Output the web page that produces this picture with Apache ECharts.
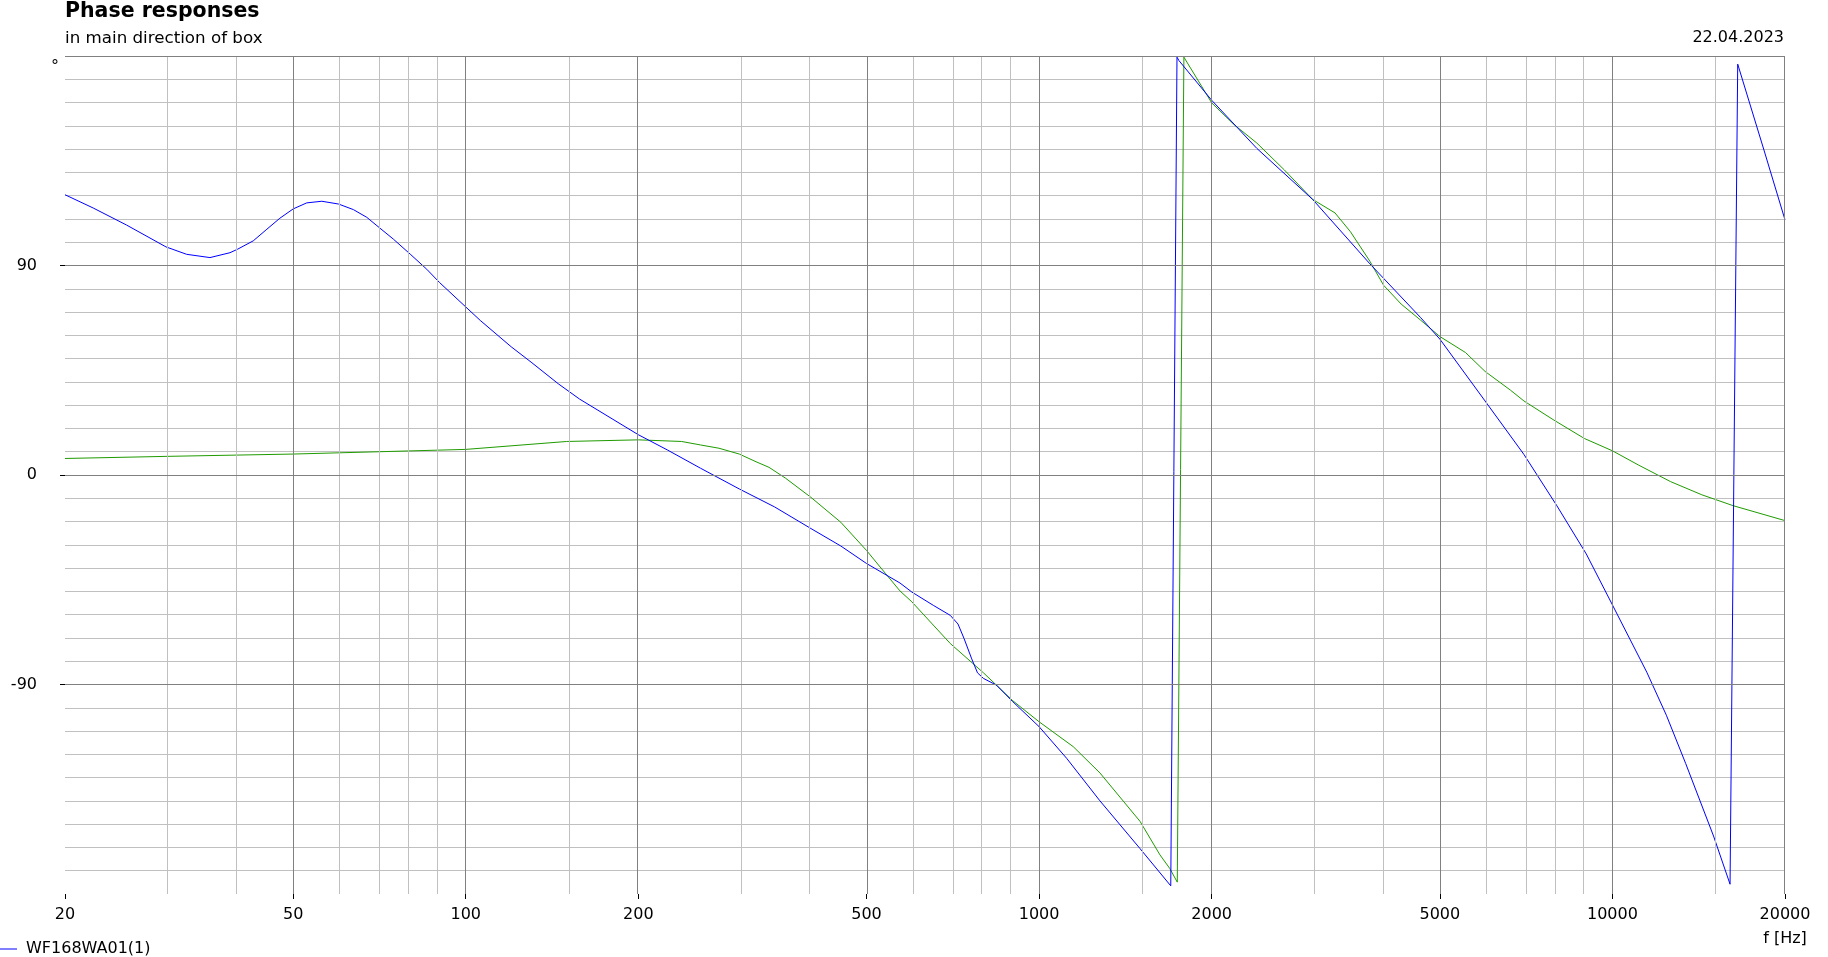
<!DOCTYPE html>
<html><head><meta charset="utf-8">
<script src="https://cdn.jsdelivr.net/npm/echarts@6/dist/echarts.min.js"></script>
<style>html,body{margin:0;padding:0;background:#fff}#c{width:1828px;height:957px}</style>
</head><body><div id="c"></div>
<script>
// ---- data ----
const titleText = 'Phase responses';
const subtitleText = 'in main direction of box';
const dateText = '22.04.2023';
const unitText = '°';
const xUnitText = 'f [Hz]';
const seriesNames = ['WF168WA01(1)', 'WF168WA01(2)'];

const blueFreq = [20, 22.4, 25.6, 30, 32.6, 35.8, 38.8, 40, 42.6, 45, 47.4, 50, 52.8, 56.1, 60, 63.7, 67.2, 70, 74.8, 80, 85.5, 90, 100, 106, 120, 130, 145, 158, 200, 224.6, 256.8, 300, 345.6, 400, 451, 500, 572, 600, 654, 700, 722, 740, 763, 781, 800, 843, 900, 1000, 1117, 1277, 1500, 1697, 1740, 1754, 2000, 2398, 3000, 3776, 4630, 5000, 5996, 7010, 8000, 9003, 10000, 11480, 12420, 13420, 15010, 16040, 16540, 18400, 20000];
const bluePhase = [120.4, 114.7, 107.4, 98.0, 94.8, 93.4, 95.5, 97.0, 100.6, 105.6, 110.3, 114.3, 116.9, 117.6, 116.4, 114.0, 110.7, 107.1, 101.3, 94.9, 88.4, 82.7, 72.2, 66.4, 55.1, 48.5, 39.2, 32.6, 17.3, 10.8, 2.9, -6, -13.7, -23, -30.5, -38, -46.4, -50.3, -56, -60.3, -64, -70.3, -79, -85, -87.4, -90.3, -97.4, -108.1, -121.7, -140, -160.5, -176.5, 179.5, 178, 161, 140.3, 118.4, 90.7, 67.6, 58.4, 31.8, 8.8, -13.2, -33.9, -55.8, -84.7, -103.2, -123.9, -155.1, -175.8, 176.5, 139.2, 109.6];

const greenFreq = [20, 30, 50, 100, 150, 200, 238, 256.8, 276.5, 300, 320.8, 338, 361.4, 400, 451, 500, 540, 572, 600, 700, 800, 900, 1000, 1147, 1277, 1500, 1625, 1690, 1742, 1789, 2000, 2184, 2398, 2677, 3000, 3282, 3492, 3776, 3990, 4282, 4630, 5000, 5544, 5996, 6636, 7010, 7880, 8934, 10000, 11120, 12620, 14320, 16250, 20000];
const greenPhase = [7.1, 8.0, 9.0, 11.0, 14.4, 15.1, 14.4, 12.9, 11.5, 9.0, 5.7, 3.3, -1.4, -9.6, -20.3, -32.4, -42.4, -49.8, -54.5, -72.4, -85, -97, -106, -116.7, -128, -148.8, -163.2, -169, -174.9, 179.5, 159.9, 150.7, 142.6, 131.1, 118.4, 112.6, 104.5, 91.8, 81.5, 73.4, 66.5, 59.5, 52.6, 44.5, 36.5, 31.8, 23.8, 15.7, 10.4, 4.2, -2.8, -8.5, -13.2, -19.6];

const xLabelFreqs = [20, 50, 100, 200, 500, 1000, 2000, 5000, 10000, 20000];
const xMinorFreqs = [30, 40, 60, 70, 80, 90, 150, 300, 400, 600, 700, 800, 900, 1500, 3000, 4000, 6000, 7000, 8000, 9000, 15000];
const yLabelValues = [-90, 0, 90];
const yMajorLines = [-90, 0, 90, 180];

// ---- chart ----
const FONT = 'DejaVu Sans';
const LIGHT = '#c0c0c0', DARK = '#808080';
const lg = Math.log10;
const xMin = lg(20), xMax = lg(20000);

const gridLines = [];
xMinorFreqs.forEach(f => gridLines.push({xAxis: lg(f), lineStyle: {color: LIGHT, width: 1, type: 'solid'}}));
xLabelFreqs.forEach(f => gridLines.push({xAxis: lg(f), lineStyle: {color: DARK, width: 1, type: 'solid'}}));
yMajorLines.forEach(v => gridLines.push({yAxis: v, lineStyle: {color: DARK, width: 1, type: 'solid'}}));

const chart = echarts.init(document.getElementById('c'), null, {renderer: 'canvas'});
chart.setOption({
  animation: false,
  backgroundColor: '#fff',
  textStyle: {fontFamily: FONT},
  grid: {left: 65, right: 43, top: 56, bottom: 63, containLabel: false},
  legend: {
    data: [seriesNames[0]], left: 0, top: 941, padding: 0, icon: 'rect', itemWidth: 17, itemHeight: 1,
    textStyle: {fontFamily: FONT, fontSize: 16, color: '#000', padding: [0, 0, 0, 4]}
  },
  graphic: [
    {type: 'text', left: 65, top: 1, style: {text: titleText, font: 'bold 20.5px "DejaVu Sans"', fill: '#000'}},
    {type: 'text', left: 65, top: 30, style: {text: subtitleText, font: '16.7px "DejaVu Sans"', fill: '#000'}},
    {type: 'text', right: 44, top: 30, style: {text: dateText, font: '16px "DejaVu Sans"', fill: '#000'}},
    {type: 'text', left: 51, top: 59, style: {text: unitText, font: '16px "DejaVu Sans"', fill: '#000'}}
  ],
  xAxis: [{
    type: 'value', min: xMin, max: xMax,
    axisLine: {show: false, onZero: false}, splitLine: {show: false},
    axisTick: {show: true, customValues: xLabelFreqs.map(lg), length: 5, lineStyle: {color: '#000', width: 1}},
    axisLabel: {
      show: true, customValues: xLabelFreqs.map(lg), margin: 9, fontSize: 16, color: '#000', lineHeight: 24,
      fontFamily: FONT,
      formatter: v => {
        const f = Math.round(Math.pow(10, v));
        return f === 20000 ? f + '\n' + xUnitText : String(f);
      }
    }
  }],
  yAxis: [{
    type: 'value', min: -180, max: 180, interval: 10,
    axisLine: {show: false, onZero: false}, axisTick: {show: false}, axisLabel: {show: false},
    splitLine: {show: true, showMinLine: false, lineStyle: {color: LIGHT, width: 1}}
  }, {
    type: 'value', min: -180, max: 180, position: 'left',
    axisLine: {show: false, onZero: false}, splitLine: {show: false},
    axisTick: {show: true, customValues: yLabelValues, length: 5, lineStyle: {color: '#000', width: 1}},
    axisLabel: {show: true, customValues: yLabelValues, margin: 28, fontSize: 16, color: '#000', fontFamily: FONT}
  }],
  series: [
    {
      name: 'grid', type: 'line', data: [], z: 1, silent: true,
      markLine: {silent: true, symbol: ['none', 'none'], label: {show: false}, animation: false, data: gridLines}
    },
    {
      name: seriesNames[1], type: 'line', z: 3, showSymbol: false, symbol: 'none',
      lineStyle: {color: '#1f9b00', width: 1}, itemStyle: {color: '#1f9b00'},
      data: greenFreq.map((f, i) => [lg(f), greenPhase[i]])
    },
    {
      name: seriesNames[0], type: 'line', z: 4, showSymbol: false, symbol: 'none',
      lineStyle: {color: '#0000ff', width: 1}, itemStyle: {color: '#0000ff'},
      data: blueFreq.map((f, i) => [lg(f), bluePhase[i]])
    }
  ]
});
</script></body></html>
